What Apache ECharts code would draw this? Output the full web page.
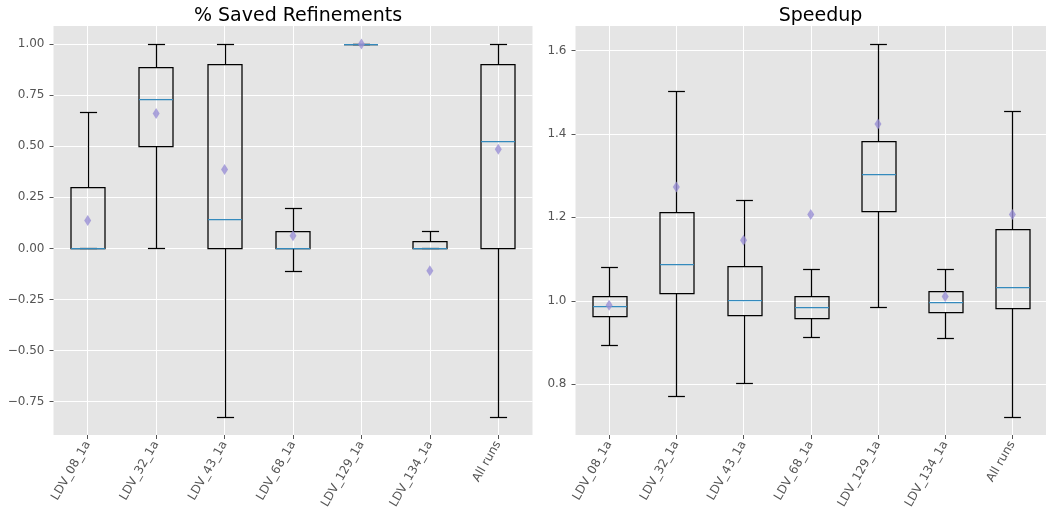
<!DOCTYPE html>
<html>
<head>
<meta charset="utf-8">
<script src="https://cdn.jsdelivr.net/npm/echarts@6/dist/echarts.min.js"></script>
<style>html,body{margin:0;padding:0;background:#fff}#c{width:1046px;height:517px}</style>
</head>
<body>
<div id="c"></div>
<script>
const categories = ['LDV_08_1a','LDV_32_1a','LDV_43_1a','LDV_68_1a','LDV_129_1a','LDV_134_1a','All runs'];

// % Saved Refinements
const savedMin  = [0.000, 0.000, -0.824, -0.112, 1.000, 0.000, -0.824];
const savedQ1   = [0.000, 0.500,  0.000,  0.000, 1.000, 0.000,  0.000];
const savedMed  = [0.000, 0.730,  0.142,  0.000, 1.000, 0.000,  0.524];
const savedQ3   = [0.300, 0.889,  0.900,  0.083, 1.000, 0.034,  0.900];
const savedMax  = [0.667, 1.000,  1.000,  0.200, 1.000, 0.083,  1.000];
const savedMean = [0.137, 0.660,  0.386,  0.062, 1.000, -0.109, 0.485];

// Speedup
const speedMin  = [0.894, 0.771, 0.802, 0.914, 0.986, 0.910, 0.722];
const speedQ1   = [0.963, 1.018, 0.967, 0.958, 1.215, 0.974, 0.983];
const speedMed  = [0.987, 1.089, 1.002, 0.986, 1.305, 0.997, 1.033];
const speedQ3   = [1.011, 1.213, 1.083, 1.011, 1.384, 1.023, 1.173];
const speedMax  = [1.082, 1.503, 1.242, 1.075, 1.616, 1.077, 1.456];
const speedMean = [0.989, 1.273, 1.145, 1.207, 1.424, 1.010, 1.207];

const savedTicks = [-0.75, -0.5, -0.25, 0, 0.25, 0.5, 0.75, 1.0];
const speedTicks = [0.8, 1.0, 1.2, 1.4, 1.6];

const FONT = 'DejaVu Sans';
const positions = categories.map((c, i) => i + 1);

function boxData(mn, q1, md, q3, mx) {
  return positions.map((p, i) => [p, mn[i], q1[i], md[i], q3[i], mx[i]]);
}
function meanData(m) { return positions.map((p, i) => [p, m[i]]); }

function renderBox(params, api) {
  const x = api.value(0);
  const pMin = api.coord([x, api.value(1)]);
  const pQ1 = api.coord([x, api.value(2)]);
  const pMed = api.coord([x, api.value(3)]);
  const pQ3 = api.coord([x, api.value(4)]);
  const pMax = api.coord([x, api.value(5)]);
  const unit = api.size([1, 0])[0];
  const bw = unit * 0.5, cw = unit * 0.25;
  const cx = Math.round(pMin[0]) + 0.5;
  const r = v => Math.round(v) + 0.5;
  const st = { stroke: '#000', lineWidth: 1.25, fill: null };
  const children = [];
  if (Math.abs(pQ1[1] - pMin[1]) > 0.5)
    children.push({ type: 'line', shape: { x1: cx, y1: r(pQ1[1]), x2: cx, y2: r(pMin[1]) }, style: st });
  if (Math.abs(pQ3[1] - pMax[1]) > 0.5)
    children.push({ type: 'line', shape: { x1: cx, y1: r(pQ3[1]), x2: cx, y2: r(pMax[1]) }, style: st });
  children.push(
    { type: 'line', shape: { x1: cx - cw / 2, y1: r(pMin[1]), x2: cx + cw / 2, y2: r(pMin[1]) }, style: st },
    { type: 'line', shape: { x1: cx - cw / 2, y1: r(pMax[1]), x2: cx + cw / 2, y2: r(pMax[1]) }, style: st },
    { type: 'rect', shape: { x: Math.round(cx - bw / 2), y: r(pQ3[1]), width: Math.round(bw), height: Math.max(0, r(pQ1[1]) - r(pQ3[1])) }, style: { stroke: '#000', lineWidth: 1.25, fill: null } },
    { type: 'line', shape: { x1: Math.round(cx - bw / 2), y1: r(pMed[1]), x2: Math.round(cx - bw / 2) + Math.round(bw), y2: r(pMed[1]) }, style: { stroke: '#348ABD', lineWidth: 1.25 } }
  );
  return { type: 'group', children };
}

function xAxis(gi) {
  return {
    type: 'value', gridIndex: gi, min: 0.5, max: 7.5,
    axisLine: { show: false, onZero: false },
    axisTick: { show: true, length: 4, lineStyle: { color: '#555555' }, customValues: positions },
    axisLabel: { customValues: positions, rotate: 60, margin: 7, color: '#555555', fontFamily: FONT, fontSize: 12,
      formatter: v => categories[Math.round(v) - 1] || '' },
    splitLine: { show: true, lineStyle: { color: '#ffffff', width: 1 } }
  };
}
function yAxis(gi, mn, mx, ticks, dec) {
  return {
    type: 'value', gridIndex: gi, min: mn, max: mx,
    axisLine: { show: false, onZero: false },
    axisTick: { show: true, length: 4, lineStyle: { color: '#555555' }, customValues: ticks },
    axisLabel: { customValues: ticks, margin: 9, color: '#555555', fontFamily: FONT, fontSize: 12,
      formatter: v => v.toFixed(dec).replace('-', '\u2212') },
    splitLine: { show: true, lineStyle: { color: '#ffffff', width: 1 } }
  };
}

const option = {
  animation: false,
  backgroundColor: '#ffffff',
  title: [
    { text: '% Saved Refinements', left: 293, top: 2, textAlign: 'center',
      textStyle: { fontFamily: FONT, fontSize: 19, fontWeight: 'normal', color: '#000' } },
    { text: 'Speedup', left: 815.5, top: 2, textAlign: 'center',
      textStyle: { fontFamily: FONT, fontSize: 19, fontWeight: 'normal', color: '#000' } }
  ],
  grid: [
    { left: 53.5, top: 26, width: 479, height: 409, show: true, backgroundColor: '#E5E5E5', borderWidth: 0 },
    { left: 575.5, top: 26, width: 480, height: 409, show: true, backgroundColor: '#E5E5E5', borderWidth: 0 }
  ],
  xAxis: [xAxis(0), xAxis(1)],
  yAxis: [yAxis(0, -0.913, 1.088, savedTicks, 2), yAxis(1, 0.678, 1.659, speedTicks, 1)],
  series: [
    { type: 'custom', xAxisIndex: 0, yAxisIndex: 0, renderItem: renderBox,
      encode: { x: 0, y: [1, 2, 3, 4, 5] }, data: boxData(savedMin, savedQ1, savedMed, savedQ3, savedMax), z: 2 },
    { type: 'scatter', xAxisIndex: 0, yAxisIndex: 0, symbol: 'diamond', symbolSize: [7, 11],
      itemStyle: { color: '#988ED5' }, data: meanData(savedMean), z: 3 },
    { type: 'custom', xAxisIndex: 1, yAxisIndex: 1, renderItem: renderBox,
      encode: { x: 0, y: [1, 2, 3, 4, 5] }, data: boxData(speedMin, speedQ1, speedMed, speedQ3, speedMax), z: 2 },
    { type: 'scatter', xAxisIndex: 1, yAxisIndex: 1, symbol: 'diamond', symbolSize: [7, 11],
      itemStyle: { color: '#988ED5' }, data: meanData(speedMean), z: 3 }
  ]
};
echarts.init(document.getElementById('c'), null, { renderer: 'canvas' }).setOption(option);
</script>
</body>
</html>
